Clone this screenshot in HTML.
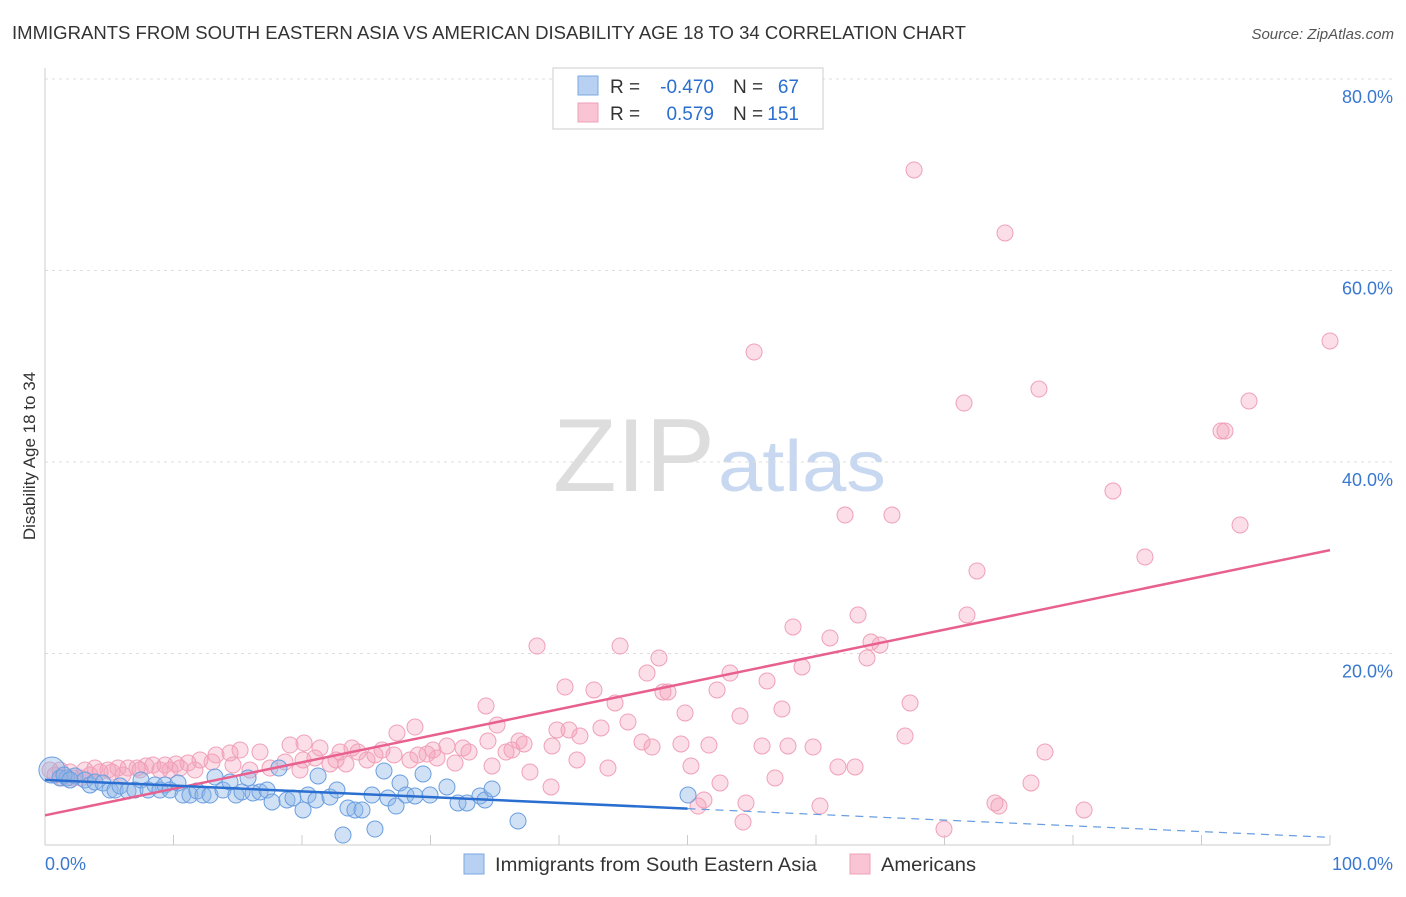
<!DOCTYPE html>
<html><head><meta charset="utf-8">
<style>
body{margin:0;background:#fff;font-family:"Liberation Sans",sans-serif}
svg text{font-family:"Liberation Sans",sans-serif}
</style></head>
<body>
<svg id="chart" width="1406" height="892" xmlns="http://www.w3.org/2000/svg">
<text x="12" y="39" font-size="18" fill="#333" textLength="954" lengthAdjust="spacingAndGlyphs">IMMIGRANTS FROM SOUTH EASTERN ASIA VS AMERICAN DISABILITY AGE 18 TO 34 CORRELATION CHART</text>
<text x="1394" y="39" font-size="15" fill="#555" font-style="italic" text-anchor="end">Source: ZipAtlas.com</text>
<text x="35" y="456" font-size="17" fill="#333" text-anchor="middle" transform="rotate(-90 35 456)">Disability Age 18 to 34</text>
<text x="553" y="491" font-size="104" fill="#ddd" font-family="Liberation Serif" textLength="162" lengthAdjust="spacingAndGlyphs">ZIP</text>
<text x="718" y="491" font-size="72" fill="#c8d8f0" textLength="168" lengthAdjust="spacingAndGlyphs">atlas</text>
<g id="grid"></g><g id="pts"></g><g id="trend"></g>
<g>
<rect x="553" y="68" width="270" height="61" fill="#fff" stroke="#ccc"/>
<rect x="578" y="76" width="20" height="19" fill="#b8d0f2" stroke="#7aa8e0"/>
<rect x="578" y="103" width="20" height="19" fill="#f9c4d3" stroke="#f0a0b8"/>
<text x="610" y="93" font-size="19" fill="#333">R =</text>
<text x="714" y="93" font-size="19" fill="#2a6fd0" text-anchor="end">-0.470</text>
<text x="733" y="93" font-size="19" fill="#333">N =</text>
<text x="799" y="93" font-size="19" fill="#2a6fd0" text-anchor="end">67</text>
<text x="610" y="120" font-size="19" fill="#333">R =</text>
<text x="714" y="120" font-size="19" fill="#2a6fd0" text-anchor="end">0.579</text>
<text x="733" y="120" font-size="19" fill="#333">N =</text>
<text x="799" y="120" font-size="19" fill="#2a6fd0" text-anchor="end">151</text>
</g>
<g>
<rect x="464" y="854" width="20" height="20" fill="#b8d0f2" stroke="#7aa8e0"/>
<text x="495" y="871" font-size="19" fill="#333" textLength="322" lengthAdjust="spacingAndGlyphs">Immigrants from South Eastern Asia</text>
<rect x="850" y="854" width="20" height="20" fill="#f9c4d3" stroke="#f0a0b8"/>
<text x="881" y="871" font-size="19" fill="#333" textLength="95" lengthAdjust="spacingAndGlyphs">Americans</text>
</g>
</svg>
<script>
const yTicks=[20,40,60,80];
const xTickLabels=["0.0%","100.0%"];
const pinkPx=[[914,170],[1005,233],[754,352],[1330,341],[964,403],[1039,389],[1249,401],[1221,431],[1225,431],[1113,491],[845,515],[892,515],[1240,525],[1145,557],[977,571],[858,615],[967,615],[793,627],[830,638],[871,642],[880,645],[537,646],[620,646],[659,658],[867,658],[730,673],[647,673],[802,667],[565,687],[594,690],[663,692],[668,692],[767,681],[717,690],[615,703],[486,706],[910,703],[685,713],[782,709],[740,716],[628,722],[497,725],[569,730],[601,728],[415,727],[397,733],[580,736],[519,741],[642,742],[905,736],[552,746],[681,744],[709,745],[762,746],[788,746],[813,747],[652,747],[1045,752],[512,750],[463,748],[447,746],[433,750],[469,752],[506,752],[427,754],[418,755],[382,750],[358,752],[320,748],[290,745],[304,743],[394,755],[375,755],[336,760],[303,760],[346,764],[260,752],[240,750],[230,753],[216,755],[212,762],[200,760],[188,763],[176,764],[165,765],[153,765],[146,766],[137,768],[128,768],[118,768],[108,770],[100,772],[90,775],[81,778],[73,778],[62,778],[55,775],[50,770],[577,760],[608,768],[492,766],[530,772],[691,766],[838,767],[855,767],[775,778],[720,783],[551,787],[270,768],[250,770],[233,765],[285,762],[1031,783],[1084,810],[995,803],[999,806],[820,806],[746,803],[704,800],[698,806],[743,822],[944,829],[170,770],[195,770],[340,752],[352,748],[367,760],[410,760],[455,763],[437,758],[488,741],[524,744],[557,730],[300,770],[315,758],[330,764],[60,770],[70,772],[85,770],[95,768],[112,772],[123,775],[140,770],[160,770],[180,768]];
const bluePx=[[52,770],[60,778],[67,778],[75,776],[85,780],[90,785],[95,782],[103,783],[110,790],[115,790],[120,786],[128,791],[135,790],[141,780],[148,790],[155,785],[160,790],[165,785],[170,790],[178,783],[183,795],[190,795],[197,791],[203,795],[210,795],[215,777],[223,790],[230,782],[236,795],[242,792],[248,778],[253,793],[260,792],[267,790],[272,802],[279,768],[287,800],[293,798],[303,810],[308,795],[316,800],[318,776],[330,797],[337,790],[348,808],[355,810],[362,810],[372,795],[375,829],[384,771],[388,798],[396,806],[400,783],[406,795],[415,796],[423,774],[430,795],[447,787],[458,803],[467,803],[480,796],[485,800],[492,789],[518,821],[343,835],[688,795],[64,775],[70,780]];
const pinkX=pinkPx.map(p=>+((p[0]-45)/12.85).toFixed(2));
const pinkY=pinkPx.map(p=>+((845-p[1])/9.575).toFixed(2));
const blueX=bluePx.map(p=>+((p[0]-45)/12.85).toFixed(2));
const blueY=bluePx.map(p=>+((845-p[1])/9.575).toFixed(2));
const pinkTrend=[3.1,30.8];
const blueTrend=[6.8,3.8,0.8];
const NS="http://www.w3.org/2000/svg";
const X=v=>45+v*12.85, Y=v=>845-v*9.575;
function mk(t,a,p){const e=document.createElementNS(NS,t);for(const k in a)e.setAttribute(k,a[k]);p.appendChild(e);return e;}
const g=document.getElementById('grid');
yTicks.forEach(t=>{
 const l=mk('line',{x1:45,x2:1393,y1:Y(t),y2:Y(t),stroke:'#ddd','stroke-dasharray':'3,4'},g);
 
 
 const tx=mk('text',{x:1393,y:Y(t)+24,'font-size':18,fill:'#3a78d0','text-anchor':'end'},g);
 tx.textContent=t.toFixed(1)+'%';
 
 
});
mk('line',{x1:45,x2:45,y1:68,y2:845,stroke:'#ccc'},g);
mk('line',{x1:45,x2:1330,y1:845,y2:845,stroke:'#ccc'},g);
for(let i=0;i<=10;i++){mk('line',{x1:X(i*10),x2:X(i*10),y1:845,y2:835,stroke:'#ccc'},g);}
const xl=mk('text',{x:45,y:870,'font-size':18,fill:'#3a78d0'},g);xl.textContent=xTickLabels[0];


const xr=mk('text',{x:1393,y:870,'font-size':18,fill:'#3a78d0','text-anchor':'end'},g);xr.textContent=xTickLabels[1];


const pg=document.getElementById('pts');
pinkX.forEach((x,i)=>{const c=mk('circle',{cx:X(x),cy:Y(pinkY[i]),r:8,fill:'rgba(244,160,185,0.35)',stroke:'#f0a0b8','stroke-width':1},pg);
 
 });
blueX.forEach((x,i)=>{const c=mk('circle',{cx:X(x),cy:Y(blueY[i]),r:i==0?13:8,fill:'rgba(140,180,230,0.4)',stroke:'#6a9ee0','stroke-width':1},pg);
 
 });
const tg=document.getElementById('trend');
const pl=mk('line',{x1:X(0),y1:Y(pinkTrend[0]),x2:X(100),y2:Y(pinkTrend[1]),stroke:'#e8608f','stroke-width':2.5},tg);


const bl=mk('line',{x1:X(0),y1:Y(blueTrend[0]),x2:X(50),y2:Y(blueTrend[1]),stroke:'#2a6fd0','stroke-width':2.5},tg);


const bd=mk('line',{x1:X(50),y1:Y(blueTrend[1]),x2:X(100),y2:Y(blueTrend[2]),stroke:'#6a9ee0','stroke-width':1.2,'stroke-dasharray':'8,6'},tg);


</script>
</body></html>
